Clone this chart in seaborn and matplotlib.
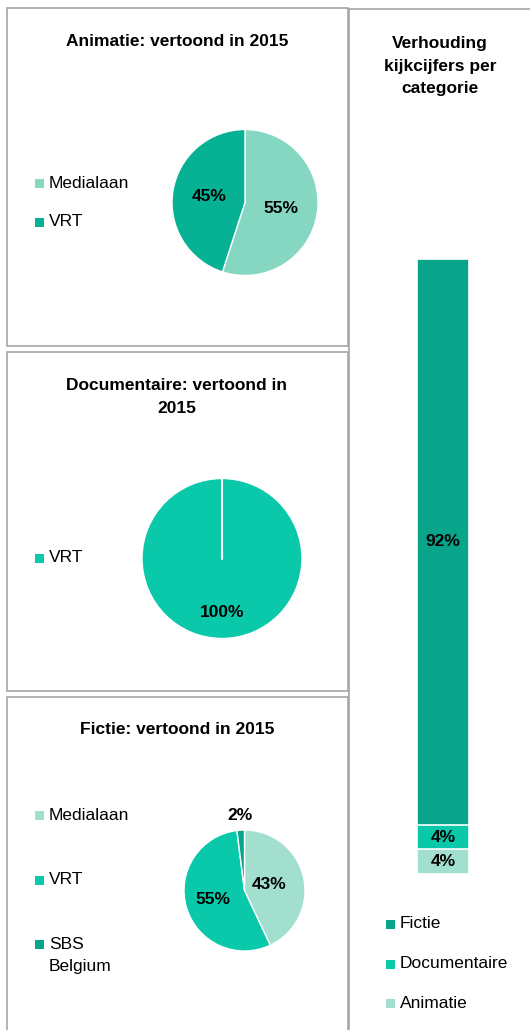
import numpy as np
import matplotlib
matplotlib.use("Agg")
import matplotlib.pyplot as plt
from matplotlib.patches import Rectangle
import seaborn as sns

sns.set_style("white")
plt.rcParams['font.family'] = ['Liberation Sans', 'DejaVu Sans']
plt.rcParams['text.color'] = 'black'

W, H = 530, 1030

# data
anim_labels = ["Medialaan", "VRT"]
anim_values = [55, 45]
doc_labels = ["VRT"]
doc_values = [100]
fict_labels = ["Medialaan", "VRT", "SBS\nBelgium"]
fict_values = [43, 55, 2]
cat_labels = ["Fictie", "Documentaire", "Animatie"]
cat_values = [92, 4, 4]

anim_colors = ["#86D7C1", "#07B294"]
doc_colors = ["#09C9AA"]
fict_colors = ["#A2DFCE", "#09C9AA", "#08A58A"]
cat_colors = ["#08A58A", "#09C9AA", "#A2DFCE"]

FS = 12.5
LS = 1.6
BORDER = "#A6A6A6"

fig = plt.figure(figsize=(W / 100, H / 100), dpi=100)


def fx(x):
    return x / W


def fy(y):
    return 1 - y / H


def box(x0, y0, x1, y1):
    fig.patches.append(Rectangle((fx(x0), fy(y1)), (x1 - x0) / W, (y1 - y0) / H,
                                 transform=fig.transFigure, fill=False,
                                 edgecolor=BORDER, linewidth=1.2))


def legend_item(x, y, color, text):
    # y is the centre of the first text line
    s = 9
    fig.patches.append(Rectangle((fx(x), fy(y + s / 2)), s / W, s / H,
                                 transform=fig.transFigure, facecolor=color,
                                 edgecolor="none"))
    nlines = text.count("\n") + 1
    fig.text(fx(x + s + 5), fy(y + (nlines - 1) * 23 / 2), text, fontsize=FS,
             va="center", ha="left", linespacing=1.55)


def pie_panel(cx, cy, r, values, colors, dists):
    ax = fig.add_axes([fx(cx - r), fy(cy + r), 2 * r / W, 2 * r / H])
    wedges, _, pcts = ax.pie(values, colors=colors, startangle=90, counterclock=False,
                             autopct=lambda p: f"{p:.0f}%",
                             wedgeprops=dict(edgecolor="white", linewidth=1),
                             textprops=dict(fontsize=FS, fontweight="bold", color="black"))
    for w, t, d in zip(wedges, pcts, dists):
        ang = np.deg2rad((w.theta1 + w.theta2) / 2)
        t.set_position((d * np.cos(ang), d * np.sin(ang)))
    ax.set_xlim(-1, 1)
    ax.set_ylim(-1, 1)
    ax.axis("off")
    return ax, wedges


# panel frames
box(7, 8, 348, 346)
box(7, 352, 348, 691)
box(7, 697, 348, 1040)
box(349, 9, 540, 1040)

# Animatie
fig.text(fx(177), fy(41), "Animatie: vertoond in 2015", fontsize=FS, fontweight="bold",
         ha="center", va="center")
pie_panel(245, 202.5, 73, anim_values, anim_colors, [0.5, 0.5])
for lab, col, yy in zip(anim_labels, anim_colors, [183, 222]):
    legend_item(35, yy, col, lab)

# Documentaire
fig.text(fx(177), fy(397), "Documentaire: vertoond in\n2015", fontsize=FS,
         fontweight="bold", ha="center", va="center", linespacing=LS)
ax2, w2 = pie_panel(222, 558.5, 80, doc_values, doc_colors, [0.67])
th = np.deg2rad(w2[0].theta1)
ax2.plot([0, np.cos(th)], [0, np.sin(th)], color="white", lw=1.5)
legend_item(35, 558, doc_colors[0], doc_labels[0])

# Fictie
fig.text(fx(177), fy(730), "Fictie: vertoond in 2015", fontsize=FS, fontweight="bold",
         ha="center", va="center")
pie_panel(244.5, 890.5, 60.5, fict_values, fict_colors, [0.42, 0.55, 1.25])
for lab, col, yy in zip(fict_labels, fict_colors, [815, 880, 944]):
    legend_item(35, yy, col, lab)

# stacked bar
fig.text(fx(440), fy(66), "Verhouding\nkijkcijfers per\ncategorie", fontsize=FS,
         fontweight="bold", ha="center", va="center", linespacing=LS)
axb = fig.add_axes([fx(417), fy(874), 52 / W, (874 - 259) / H])
order = cat_labels[::-1]
vals = cat_values[::-1]
cols = cat_colors[::-1]
tops = np.cumsum(vals)
bottoms = tops - np.array(vals)
for i in range(len(order) - 1, -1, -1):
    sns.barplot(x=["total"], y=[tops[i]], color=cols[i], width=1, saturation=1,
                edgecolor="white", linewidth=1.2, ax=axb)
for b, v in zip(bottoms, vals):
    axb.text(0, b + v / 2, f"{v}%", ha="center", va="center", fontsize=FS,
             fontweight="bold")
axb.set_xlim(-0.5, 0.5)
axb.set_ylim(0, 100)
axb.axis("off")

for lab, col, yy in zip(cat_labels, cat_colors, [924, 964, 1003]):
    legend_item(386, yy, col, lab)

fig.savefig("out.png", dpi=100)
